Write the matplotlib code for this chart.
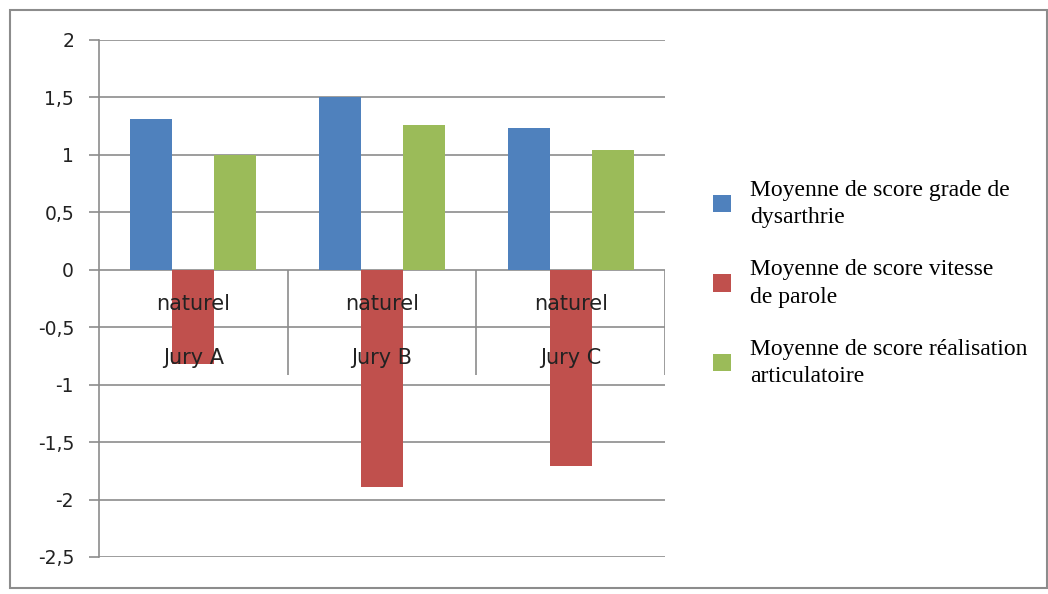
import matplotlib.pyplot as plt
from matplotlib.patches import Rectangle
import numpy as np

# donnees
jurys = ['Jury A', 'Jury B', 'Jury C']
condition = ['naturel', 'naturel', 'naturel']
grade = [1.31, 1.50, 1.23]
vitesse = [-0.82, -1.89, -1.71]
realisation = [1.00, 1.26, 1.04]
series_labels = ['Moyenne de score grade de\ndysarthrie',
                 'Moyenne de score vitesse\nde parole',
                 'Moyenne de score réalisation\narticulatoire']
couleurs = ['#4F81BD', '#C0504D', '#9BBB59']
yticks = [-2.5, -2, -1.5, -1, -0.5, 0, 0.5, 1, 1.5, 2]

plt.rcParams['font.family'] = ['DejaVu Sans']

fig = plt.figure(figsize=(10.48, 5.94), dpi=100)
ax = fig.add_axes([0.0945, 0.0623, 0.54, 0.8704])

x = np.arange(len(jurys))
w = 1 / 4.5
handles = []
for i, vals in enumerate([grade, vitesse, realisation]):
    b = ax.bar(x + (i - 1) * w, vals, w, color=couleurs[i], zorder=3,
               label=series_labels[i])
    handles.append(b)

ax.set_xlim(-0.5, len(jurys) - 0.5)
ax.set_ylim(-2.5, 2)
ax.set_yticks(yticks)
ax.set_yticklabels([('%g' % v).replace('.', ',') for v in yticks], fontsize=13.5,
                   color='#222222')
ax.grid(axis='y', color='#8c8c8c', linewidth=1.2, zorder=0)
ax.tick_params(axis='y', length=7, color='#8c8c8c', pad=11, width=1.2)
ax.set_xticks([])
for s in ['top', 'right', 'bottom']:
    ax.spines[s].set_visible(False)
ax.spines['left'].set_color('#8c8c8c')
ax.spines['left'].set_linewidth(1.2)

# etiquettes de categories a deux niveaux (style Excel)
y_bas = -0.914
ax.vlines(x + 0.5, y_bas, 0, color='#8c8c8c', lw=1.2, zorder=1)
for i in range(len(jurys)):
    ax.text(x[i], -0.30, condition[i], ha='center', va='center', fontsize=15,
            color='#222222', zorder=5)
    ax.text(x[i], -0.77, jurys[i], ha='center', va='center', fontsize=15,
            color='#222222', zorder=5)

leg = fig.legend(handles=handles, loc='upper left', bbox_to_anchor=(0.6605, 0.733),
                 frameon=False, prop={'family': 'Liberation Serif', 'size': 17},
                 handlelength=0.75, handleheight=0.75, labelspacing=1.31,
                 handletextpad=0.8)
for t in leg.get_texts():
    t.set_linespacing(1.4)

fig.patches.append(Rectangle((0.0095, 0.01), 0.99, 0.973, transform=fig.transFigure,
                             fill=False, edgecolor='#8c8c8c', linewidth=1.5))

fig.savefig('out.png', dpi=100)
